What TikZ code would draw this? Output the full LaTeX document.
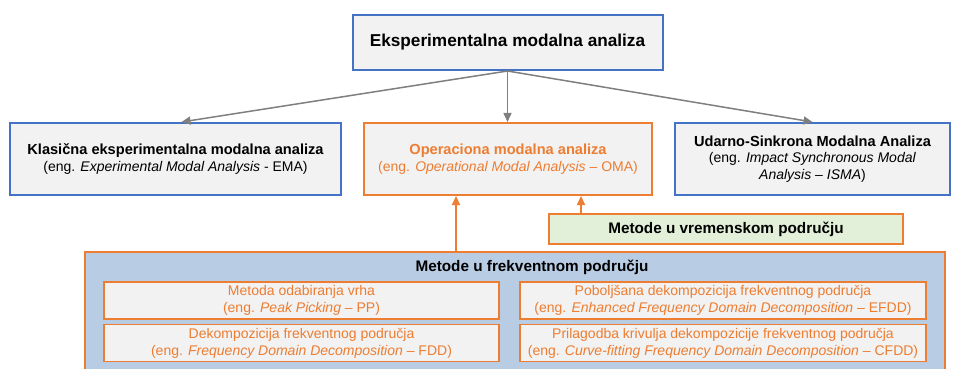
\documentclass[tikz,border=0pt]{standalone}
\usepackage{fontspec}
\setmainfont{Liberation Sans}
\usetikzlibrary{positioning}
\usetikzlibrary{calc}
\usetikzlibrary{arrows.meta}
\definecolor{emablue}{HTML}{4472C4}
\definecolor{omaorange}{HTML}{ED7D31}
\definecolor{boxgray}{HTML}{F2F2F2}
\definecolor{timegreen}{HTML}{E2F0D9}
\definecolor{freqblue}{HTML}{B8CCE4}
\definecolor{arrowgray}{HTML}{7F7F7F}
\newcommand{\boxtitlefont}{\fontsize{14.6}{17}\selectfont\bfseries}

\begin{document}
\begin{tikzpicture}[x=1pt, y=-1pt,
                    every node/.style={inner sep=0pt, align=center,
                        font=\fontsize{14}{17}\selectfont},
                    mainbox/.style={draw=emablue, fill=boxgray, line width=2pt,
                        minimum height=72pt},
                    omabox/.style={draw=omaorange, fill=boxgray, line width=2pt,
                        minimum height=72pt, text=omaorange},
                    subbox/.style={draw=omaorange, fill=boxgray, line width=1.5pt,
                        minimum height=37pt, text=omaorange},
                    grayarrow/.style={draw=arrowgray, line width=1.5pt,
                        -{Triangle[length=9pt,width=8pt]}},
                    orarrow/.style={draw=omaorange, line width=2pt,
                        -{Triangle[length=9pt,width=8pt]}}]
    \useasboundingbox (0,0) rectangle (954,369);
    % vrh
    \node[mainbox, minimum width=310pt, minimum height=55pt,
          font=\fontsize{17.2}{20}\selectfont\bfseries] (ema) at (507.5,42.5)
        {Eksperimentalna modalna analiza};
    % tri grane
    \node[mainbox, minimum width=331pt] (klasicna) at (175.5,159)
        {{\boxtitlefont Klasična eksperimentalna modalna analiza}\\
         (eng. \textit{Experimental Modal Analysis} - EMA)};
    \node[omabox, minimum width=288pt] (oma) at (508,159)
        {{\boxtitlefont Operaciona modalna analiza}\\
         (eng. \textit{Operational Modal Analysis} – OMA)};
    \node[mainbox, minimum width=275pt, font=\fontsize{14}{16.5}\selectfont] (isma) at (812.5,159)
        {{\boxtitlefont Udarno-Sinkrona Modalna Analiza}\\
         (eng. \textit{Impact Synchronous Modal}\\
         \textit{Analysis – ISMA})};
    \draw[grayarrow] (ema.south) -- ([xshift=6pt]klasicna.north);
    \draw[grayarrow] (ema.south) -- (ema.south |- oma.north);
    \draw[grayarrow] (ema.south) -- (isma.north);
    % metode
    \node[draw=omaorange, fill=timegreen, line width=2pt, minimum width=354pt,
          minimum height=30pt, font=\fontsize{15.3}{17}\selectfont\bfseries] (vrem) at (726,229)
        {Metode u vremenskom području};
    \node[draw=omaorange, fill=freqblue, line width=2pt, minimum width=860pt,
          minimum height=122pt] (freq) at (515,313) {};
    \node[font=\fontsize{15.3}{17}\selectfont\bfseries] (freqtitle) at (532,267)
        {Metode u frekventnom području};
    \node[subbox, minimum width=395pt] (pp) at (301.5,300.5)
        {Metoda odabiranja vrha\\
         (eng. \textit{Peak Picking} – PP)};
    \node[subbox, minimum width=395pt] (fdd) at (301.5,343)
        {Dekompozicija frekventnog područja\\
         (eng. \textit{Frequency Domain Decomposition} – FDD)};
    \node[subbox, minimum width=406pt] (efdd) at (723,300.5)
        {Poboljšana dekompozicija frekventnog područja\\
         (eng. \textit{Enhanced Frequency Domain Decomposition} – EFDD)};
    \node[subbox, minimum width=406pt] (cfdd) at (723,343)
        {Prilagodba krivulja dekompozicije frekventnog područja\\
         (eng. \textit{Curve-fitting Frequency Domain Decomposition} – CFDD)};
    \draw[orarrow] ([xshift=93pt]oma.south west |- freq.north) -- ([xshift=93pt]oma.south west);
    \draw[orarrow] ([xshift=33pt]vrem.north west) -- ([xshift=33pt]vrem.north west |- oma.south);
\end{tikzpicture}
\end{document}
